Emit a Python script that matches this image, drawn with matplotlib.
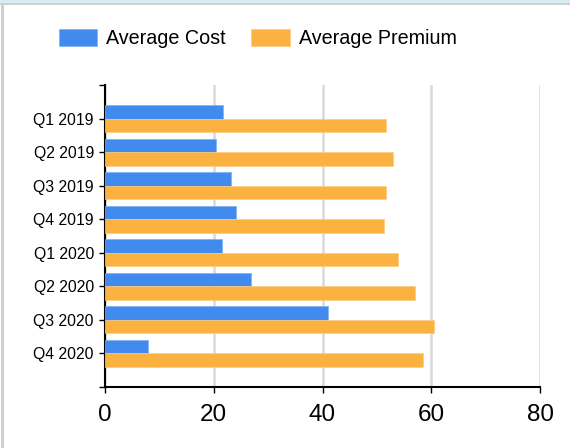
import matplotlib.pyplot as plt
import numpy as np
from matplotlib.patches import Rectangle

plt.rcParams['font.family'] = ['Liberation Sans', 'DejaVu Sans']

quarters = ['Q1 2019', 'Q2 2019', 'Q3 2019', 'Q4 2019',
            'Q1 2020', 'Q2 2020', 'Q3 2020', 'Q4 2020']
avg_cost = [21.7, 20.5, 23.2, 24.0, 21.6, 26.9, 41.0, 7.9]
avg_premium = [51.7, 53.0, 51.7, 51.3, 53.9, 57.0, 60.5, 58.4]

blue = '#418bee'
orange = '#fbb240'

fig = plt.figure(figsize=(5.7, 4.48), dpi=100)
ax = fig.add_axes([105 / 570, 61 / 448, 435 / 570, 302 / 448])

# frame of the panel (top and left edges)
fig.patches.append(Rectangle((0, 1 - 3 / 448), 1, 3 / 448, transform=fig.transFigure,
                             facecolor='#d8ecf3', edgecolor='none', zorder=0))
fig.patches.append(Rectangle((0, 1 - 5 / 448), 1, 2 / 448, transform=fig.transFigure,
                             facecolor='#d0d0d0', edgecolor='none', zorder=0))
fig.patches.append(Rectangle((1 / 570, 0), 3 / 570, 1 - 3 / 448, transform=fig.transFigure,
                             facecolor='#d0d0d0', edgecolor='none', zorder=0))

y = np.arange(len(quarters))
h = 0.4
ax.barh(y - h / 2, avg_cost, height=h, color=blue, edgecolor='#7fb0f3', linewidth=0.5,
        label='Average Cost', zorder=3)
ax.barh(y + h / 2, avg_premium, height=h, color=orange, edgecolor='#fccb80', linewidth=0.5,
        label='Average Premium', zorder=3)

ax.set_xlim(0, 80)
ax.set_ylim(8, -1)
ax.set_xticks([0, 20, 40, 60, 80])
ax.set_yticks(np.arange(-1, 9))
ax.set_yticklabels([''] + quarters + [''])

ax.grid(axis='x', color='#d9d9d9', linewidth=1.8, zorder=0)
ax.set_axisbelow(True)
for s in ['top', 'right']:
    ax.spines[s].set_visible(False)
for s in ['left', 'bottom']:
    ax.spines[s].set_linewidth(1.5)
    ax.spines[s].set_color('black')

ax.tick_params(axis='y', length=4, width=1, labelsize=11.3, pad=4)
ax.tick_params(axis='x', length=4, width=1, labelsize=17.5, pad=8)

fig.legend(loc='center', bbox_to_anchor=(0.452, 0.914), ncol=2, frameon=False,
           fontsize=14.2, handlelength=1.95, handleheight=1.0, handletextpad=0.45,
           columnspacing=1.3, borderpad=0, borderaxespad=0)

plt.savefig('out.png', dpi=100)
